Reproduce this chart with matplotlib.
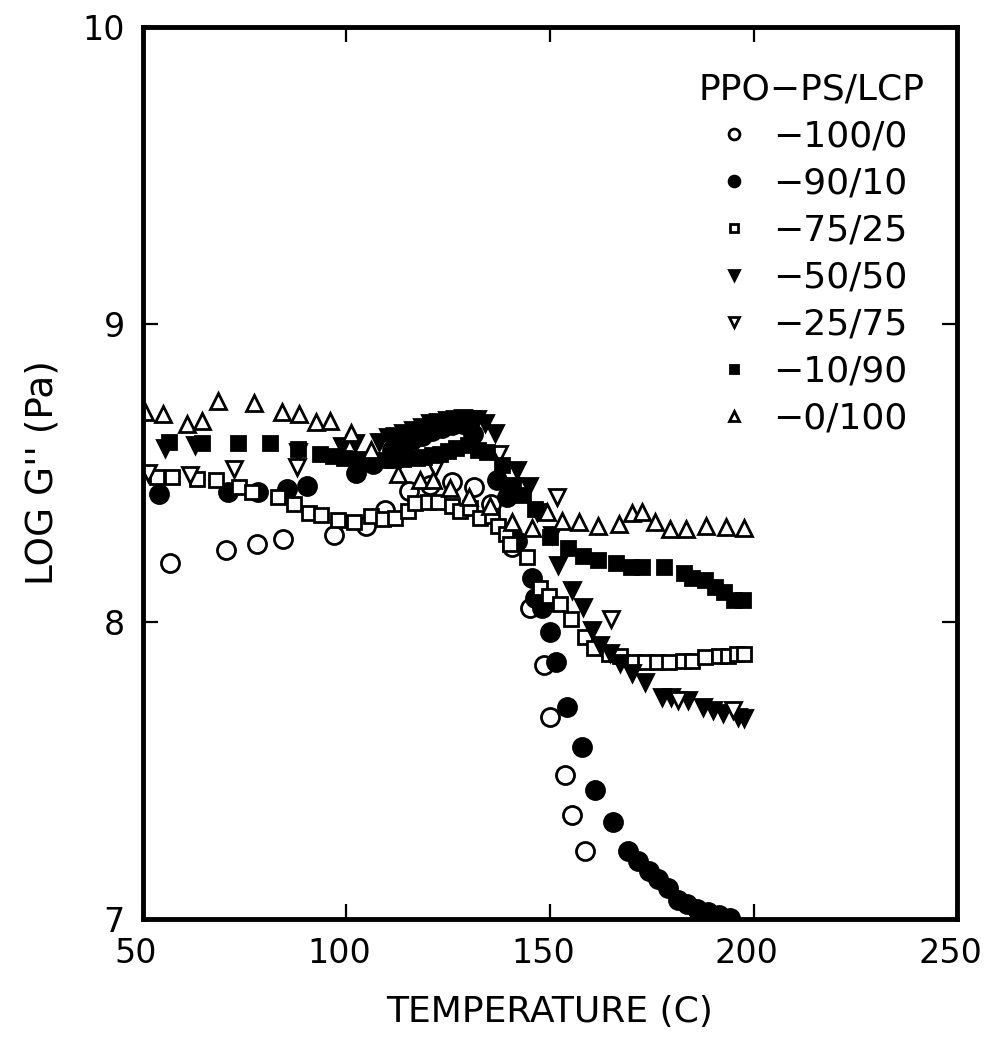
import matplotlib
matplotlib.use("Agg")
import matplotlib.pyplot as plt
import matplotlib.transforms as mtransforms

# LOG G'' vs temperature for PPO-PS/LCP blends
t_100_0 = [56.7, 70.3, 77.9, 84.3, 96.9, 104.9, 109.5, 115.4, 120.5, 126.0,
           131.4, 135.5, 140.6, 145.1, 148.4, 150.0, 153.7, 155.4, 158.6]
g_100_0 = [8.198, 8.24, 8.26, 8.278, 8.293, 8.322, 8.376, 8.438, 8.46, 8.47,
           8.452, 8.397, 8.25, 8.045, 7.854, 7.68, 7.485, 7.35, 7.23]

t_90_10 = [54.0, 70.8, 78.3, 85.3, 90.4, 102.3, 106.6, 111.3, 113.5, 116.0,
           118.5, 121.0, 123.5, 126.0, 128.5, 131.2, 136.9, 139.5, 141.8, 145.5,
           146.3, 148.0, 150.0, 151.5, 154.1, 157.8, 161.1, 165.4, 169.1, 171.7,
           174.2, 176.5, 179.1, 181.4, 183.7, 186.2, 188.9, 191.6, 194.2]
g_90_10 = [8.43, 8.435, 8.437, 8.445, 8.456, 8.50, 8.53, 8.578, 8.59, 8.61,
           8.625, 8.64, 8.65, 8.66, 8.665, 8.63, 8.476, 8.42, 8.27, 8.146,
           8.08, 8.045, 7.966, 7.865, 7.714, 7.577, 7.434, 7.325, 7.228, 7.195,
           7.162, 7.133, 7.105, 7.065, 7.05, 7.032, 7.022, 7.013, 7.005]

t_75_25 = [53.4, 57.2, 63.2, 67.9, 73.7, 76.9, 83.2, 87.1, 90.9, 93.7,
           98.0, 101.9, 106.0, 108.9, 111.9, 115.2, 116.8, 120.1, 122.6, 125.8,
           127.9, 130.3, 132.8, 135.7, 137.3, 139.2, 140.2, 144.3, 147.6, 149.8,
           152.5, 155.1, 158.5, 160.8, 164.5, 167.2, 170.6, 173.3, 176.2, 179.3,
           182.7, 185.0, 188.1, 191.4, 193.8, 195.9, 197.7]
g_75_25 = [8.485, 8.485, 8.48, 8.476, 8.454, 8.435, 8.42, 8.396, 8.365, 8.36,
           8.342, 8.334, 8.354, 8.345, 8.347, 8.373, 8.40, 8.403, 8.403, 8.39,
           8.373, 8.383, 8.35, 8.354, 8.32, 8.295, 8.26, 8.217, 8.112, 8.085,
           8.06, 8.01, 7.95, 7.913, 7.89, 7.885, 7.865, 7.865, 7.865, 7.865,
           7.869, 7.869, 7.88, 7.885, 7.885, 7.89, 7.89]

t_50_50 = [55.4, 62.8, 88.1, 98.8, 102.1, 108.1, 110.3, 112.0, 114.0, 116.4,
           118.5, 120.5, 122.5, 124.6, 126.7, 128.7, 130.5, 132.0, 134.0, 136.5,
           141.8, 144.9, 146.7, 150.4, 152.0, 155.3, 158.2, 160.2, 162.4, 164.7,
           167.2, 170.1, 173.4, 177.6, 179.7, 183.8, 187.7, 190.1, 192.6, 196.3,
           197.7]
g_50_50 = [8.583, 8.595, 8.57, 8.59, 8.60, 8.605, 8.62, 8.625, 8.635, 8.645,
           8.655, 8.667, 8.672, 8.678, 8.682, 8.684, 8.683, 8.68, 8.667, 8.633,
           8.51, 8.457, 8.37, 8.291, 8.19, 8.106, 8.05, 7.972, 7.921, 7.893,
           7.86, 7.828, 7.798, 7.748, 7.745, 7.735, 7.714, 7.703, 7.692, 7.678,
           7.675]

t_25_75 = [51.3, 61.5, 72.4, 87.9, 121.8, 137.5, 151.6, 165.1, 181.4, 195.0]
g_25_75 = [8.50, 8.493, 8.512, 8.519, 8.516, 8.565, 8.42, 8.01, 7.736, 7.703]

t_10_90 = [56.4, 64.5, 73.4, 81.2, 88.2, 93.5, 96.6, 99.4, 102.9, 106.0,
           109.5, 111.5, 114.0, 117.2, 119.0, 121.0, 123.0, 125.0, 127.0, 129.9,
           132.4, 134.4, 138.1, 141.0, 143.4, 146.3, 150.0, 154.3, 158.2, 161.9,
           166.1, 170.0, 172.5, 177.9, 182.9, 184.8, 188.1, 190.5, 192.8, 195.2,
           197.5]
g_10_90 = [8.605, 8.60, 8.602, 8.602, 8.58, 8.565, 8.557, 8.55, 8.546, 8.545,
           8.544, 8.544, 8.547, 8.55, 8.553, 8.56, 8.565, 8.575, 8.585, 8.594,
           8.577, 8.572, 8.527, 8.46, 8.426, 8.38, 8.286, 8.247, 8.221, 8.207,
           8.197, 8.183, 8.183, 8.183, 8.165, 8.146, 8.14, 8.117, 8.10, 8.073,
           8.073]

t_0_100 = [50.5, 54.9, 60.8, 64.5, 68.4, 77.3, 84.2, 88.3, 92.5, 95.9,
           101.2, 106.1, 112.7, 118.0, 121.3, 125.4, 130.1, 135.3, 140.6, 145.5,
           149.2, 152.9, 157.0, 161.9, 167.0, 170.1, 172.5, 175.7, 179.5, 183.4,
           188.3, 193.2, 197.7]
g_0_100 = [8.705, 8.70, 8.665, 8.675, 8.742, 8.735, 8.705, 8.70, 8.67, 8.675,
           8.635, 8.578, 8.496, 8.478, 8.476, 8.45, 8.418, 8.39, 8.336, 8.314,
           8.37, 8.34, 8.336, 8.322, 8.327, 8.367, 8.37, 8.336, 8.31, 8.31,
           8.32, 8.317, 8.314]

series = [
    ("\u2212100/0", t_100_0, g_100_0, "o", False, 13),
    ("\u221290/10", t_90_10, g_90_10, "o", True, 13),
    ("\u221275/25", t_75_25, g_75_25, "s", False, 10),
    ("\u221250/50", t_50_50, g_50_50, "v", True, 12),
    ("\u221225/75", t_25_75, g_25_75, "v", False, 12),
    ("\u221210/90", t_10_90, g_10_90, "s", True, 10),
    ("\u22120/100", t_0_100, g_0_100, "^", False, 12),
]

plt.rcParams["font.family"] = ["DejaVu Sans"]

fig = plt.figure(figsize=(9.88, 10.37), dpi=100)
ax = fig.add_axes([0.1447, 0.1138, 0.824, 0.8602])

for label, t, g, m, filled, ms in series:
    ax.plot(t, g, linestyle="none", marker=m, markersize=ms,
            markerfacecolor="black" if filled else "white",
            markeredgecolor="black", markeredgewidth=2.0, label=label)

ax.set_xlim(50, 250)
ax.set_ylim(7, 10)
ax.set_xticks([50, 100, 150, 200, 250])
ax.set_yticks([7, 8, 9, 10])
ax.tick_params(direction="in", length=11, width=1.6, labelsize=24, pad=13,
               top=True, right=True)
for s in ax.spines.values():
    s.set_linewidth(3.5)

# x tick labels in the original sit a little left of their ticks
shift = mtransforms.ScaledTranslation(-7 / 100, 0, fig.dpi_scale_trans)
for lab in ax.get_xticklabels():
    lab.set_transform(lab.get_transform() + shift)

ax.set_xlabel("TEMPERATURE (C)", fontsize=26, labelpad=18)
ax.set_ylabel("LOG G'' (Pa)", fontsize=27, labelpad=16)

leg = ax.legend(title="PPO\u2212PS/LCP", loc="upper right",
                bbox_to_anchor=(1.0, 0.985), frameon=False, fontsize=26,
                title_fontsize=26, markerscale=0.6, handlelength=1.0,
                handletextpad=0.6, labelspacing=0.36)

fig.savefig("out.png", dpi=100)
